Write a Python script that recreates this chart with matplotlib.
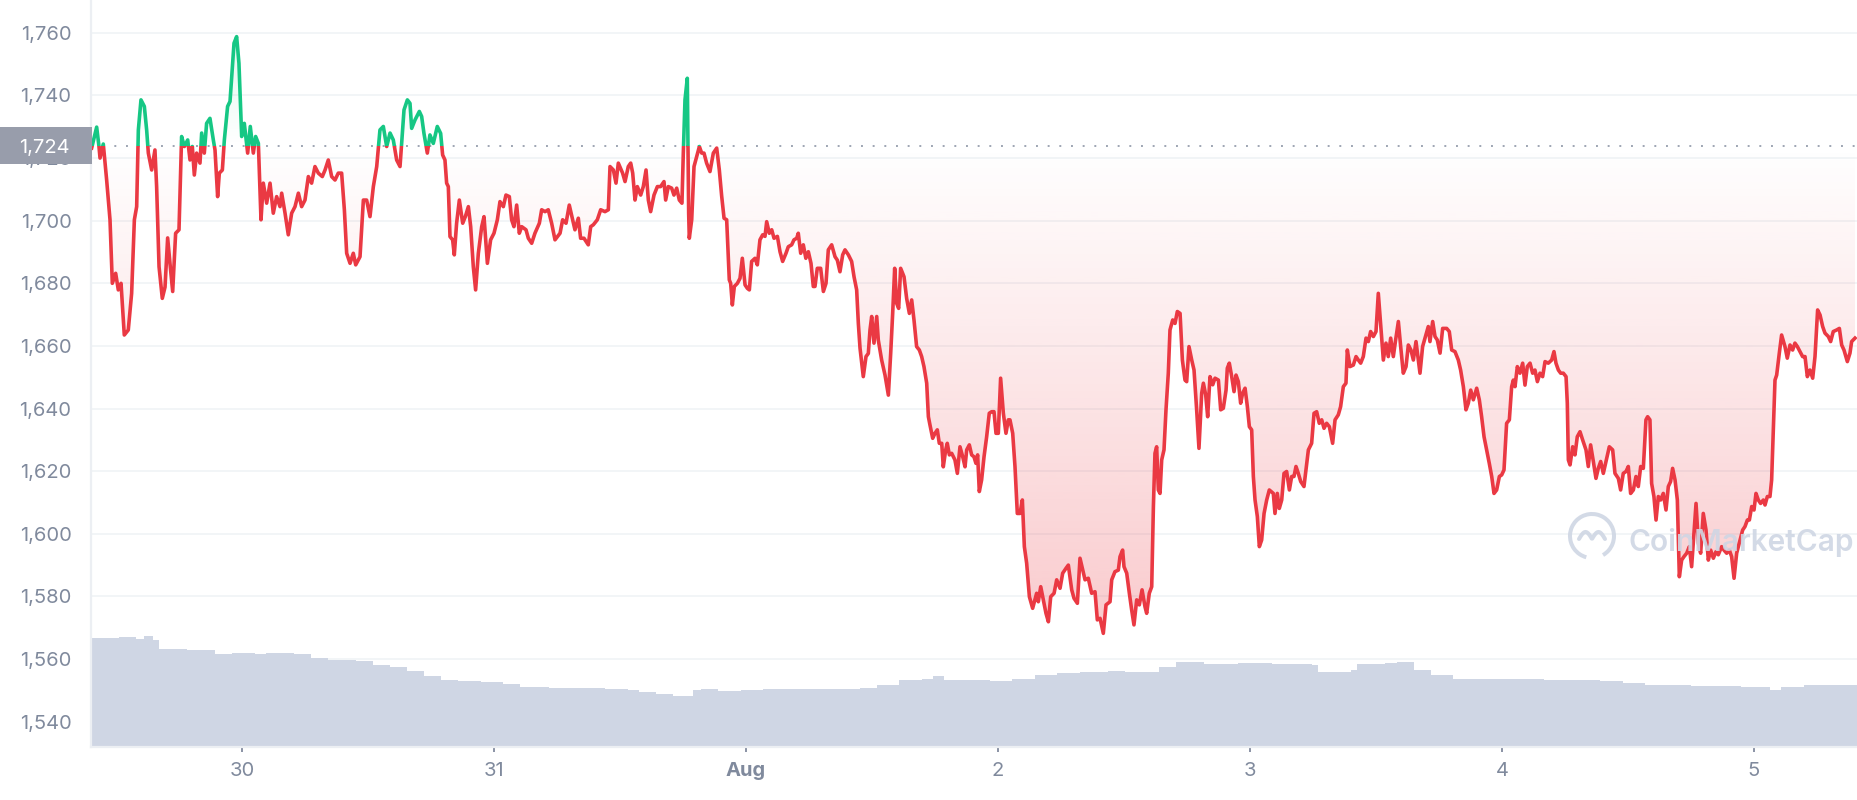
import numpy as np
import matplotlib
matplotlib.use('Agg')
import matplotlib.pyplot as plt
import matplotlib.transforms as mtransforms
from matplotlib.patches import Rectangle, Arc
from matplotlib.colors import to_rgb

plt.rcParams['font.family'] = ['Inter', 'DejaVu Sans']

# hours since Jul 30 00:00, ETH price (USD)
hours = [
    -14.32, -13.84, -13.62, -13.52, -13.21, -12.89, -12.57, -12.35, -12.03, -11.78, -11.52, -11.21,
    -10.83, -10.51, -10.25, -10.03, -9.87, -9.62, -9.30, -9.08, -8.92, -8.60, -8.29, -8.13, -7.90,
    -7.59, -7.33, -7.08, -6.83, -6.60, -6.32, -6.00, -5.75, -5.49, -5.17, -4.95, -4.73, -4.54, -4.32,
    -4.00, -3.84, -3.59, -3.37, -3.05, -2.73, -2.57, -2.32, -2.16, -1.87, -1.68, -1.37, -1.14, -0.76,
    -0.51, -0.29, -0.03, 0.22, 0.54, 0.79, 1.08, 1.30, 1.56, 1.81, 2.03, 2.35, 2.67, 2.98, 3.30, 3.62,
    3.78, 4.10, 4.41, 4.73, 5.05, 5.37, 5.68, 6.00, 6.32, 6.63, 6.95, 7.27, 7.65, 7.91, 8.22, 8.54,
    8.86, 9.17, 9.49, 9.75, 9.97, 10.29, 10.60, 10.83, 11.24, 11.56, 11.87, 12.19, 12.51, 12.83, 13.14,
    13.46, 13.78, 14.10, 14.41, 14.73, 15.05, 15.43, 15.75, 16.00, 16.16, 16.48, 16.89, 17.11, 17.33,
    17.65, 17.90, 18.22, 18.60, 18.92, 19.11, 19.33, 19.49, 19.65, 19.81, 20.06, 20.22, 20.44, 20.70,
    21.02, 21.27, 21.56, 21.78, 22.03, 22.25, 22.51, 22.83, 23.05, 23.37, 23.68, 24.00, 24.32, 24.57,
    24.89, 25.14, 25.46, 25.68, 25.90, 26.16, 26.41, 26.64, 27.05, 27.27, 27.59, 27.90, 28.32, 28.54,
    28.86, 29.17, 29.49, 29.81, 30.29, 30.54, 30.86, 31.17, 31.49, 31.71, 32.03, 32.25, 32.57, 32.98,
    33.21, 33.46, 33.84, 34.16, 34.57, 34.89, 35.05, 35.37, 35.62, 35.84, 36.25, 36.48, 36.79, 37.02,
    37.21, 37.43, 37.65, 37.97, 38.22, 38.48, 38.70, 38.92, 39.24, 39.56, 39.87, 40.19, 40.35, 40.60,
    40.92, 41.14, 41.40, 41.65, 41.90, 42.03, 42.19, 42.41, 42.54, 42.60, 42.83, 43.05, 43.30, 43.56,
    43.78, 44.00, 44.25, 44.57, 44.89, 45.21, 45.46, 45.68, 45.91, 46.16, 46.41, 46.54, 46.70, 46.89,
    47.18, 47.43, 47.65, 47.91, 48.13, 48.32, 48.54, 48.86, 49.08, 49.33, 49.59, 49.81, 49.97, 50.22,
    50.45, 50.67, 50.99, 51.24, 51.49, 51.81, 52.03, 52.35, 52.57, 52.83, 52.98, 53.21, 53.46, 53.70,
    53.94, 54.19, 54.41, 54.57, 54.79, 55.11, 55.37, 55.62, 55.84, 56.16, 56.48, 56.70, 56.95, 57.21,
    57.43, 57.75, 58.06, 58.29, 58.54, 58.70, 58.86, 59.17, 59.43, 59.65, 59.81, 59.97, 60.19, 60.45,
    60.60, 60.92, 61.24, 61.56, 61.78, 61.97, 62.16, 62.35, 62.54, 62.73, 63.05, 63.30, 63.56, 63.78,
    64.00, 64.25, 64.51, 64.73, 64.95, 65.21, 65.37, 65.52, 65.78, 66.00, 66.22, 66.41, 66.64, 66.79,
    67.02, 67.17, 67.37, 67.59, 67.90, 68.13, 68.38, 68.64, 68.86, 69.02, 69.27, 69.49, 69.71, 69.90,
    70.06, 70.22, 70.44, 70.67, 70.92, 71.17, 71.40, 71.62, 71.81, 72.03, 72.25, 72.51, 72.76, 72.98,
    73.14, 73.40, 73.62, 73.84, 74.10, 74.32, 74.51, 74.73, 74.99, 75.30, 75.68, 75.84, 76.07, 76.32,
    76.57, 76.80, 77.02, 77.34, 77.59, 77.91, 78.16, 78.48, 78.70, 79.02, 79.24, 79.56, 79.81, 80.07,
    80.29, 80.60, 80.92, 81.24, 81.46, 81.72, 82.03, 82.29, 82.67, 82.83, 83.14, 83.46, 83.62, 83.87,
    84.00, 84.26, 84.51, 84.73, 84.95, 85.21, 85.46, 85.72, 86.00, 86.16, 86.41, 86.64, 86.80, 86.95,
    87.11, 87.27, 87.43, 87.59, 87.81, 88.00, 88.22, 88.38, 88.64, 88.86, 89.08, 89.34, 89.56, 89.81,
    89.97, 90.19, 90.45, 90.67, 90.92, 91.14, 91.40, 91.56, 91.78, 91.97, 92.19, 92.45, 92.67, 92.99,
    93.21, 93.46, 93.72, 93.84, 94.03, 94.26, 94.48, 94.67, 94.89, 95.11, 95.30, 95.53, 95.75, 95.94,
    96.16, 96.32, 96.48, 96.70, 96.89, 97.11, 97.34, 97.59, 97.84, 98.22, 98.38, 98.60, 98.79, 99.02,
    99.24, 99.49, 99.75, 99.97, 100.19, 100.38, 100.60, 100.83, 101.14, 101.33, 101.56, 101.87, 102.10,
    102.35, 102.60, 102.83, 103.05, 103.30, 103.56, 103.87, 104.10, 104.41, 104.63, 104.89, 105.14,
    105.27, 105.52, 105.84, 106.10, 106.32, 106.54, 106.79, 107.05, 107.27, 107.49, 107.75, 108.00,
    108.22, 108.44, 108.70, 108.95, 109.17, 109.40, 109.65, 109.87, 110.13, 110.35, 110.60, 110.86,
    111.08, 111.33, 111.56, 111.81, 112.03, 112.19, 112.44, 112.67, 112.98, 113.14, 113.40, 113.62,
    113.84, 114.10, 114.35, 114.73, 114.98, 115.21, 115.52, 115.84, 116.06, 116.32, 116.57, 116.79,
    117.02, 117.27, 117.59, 117.84, 118.06, 118.29, 118.54, 118.79, 119.02, 119.24, 119.49, 119.75,
    119.97, 120.19, 120.44, 120.70, 120.92, 121.08, 121.24, 121.46, 121.71, 121.97, 122.19, 122.41,
    122.67, 122.92, 123.14, 123.37, 123.62, 123.87, 124.10, 124.41, 124.73, 124.95, 125.14, 125.37,
    125.59, 125.84, 126.10, 126.22, 126.32, 126.48, 126.73, 126.95, 127.17, 127.43, 127.68, 128.00,
    128.22, 128.44, 128.70, 128.95, 129.17, 129.40, 129.65, 129.90, 130.22, 130.54, 130.76, 131.08,
    131.30, 131.55, 131.81, 132.03, 132.25, 132.51, 132.76, 132.98, 133.21, 133.46, 133.71, 133.87,
    134.09, 134.25, 134.47, 134.67, 134.89, 135.11, 135.36, 135.62, 135.84, 136.06, 136.25, 136.48,
    136.70, 136.89, 137.11, 137.33, 137.59, 137.84, 138.06, 138.28, 138.48, 138.70, 138.92, 139.17,
    139.43, 139.65, 139.87, 140.13, 140.38, 140.60, 140.92, 141.14, 141.40, 141.65, 141.87, 142.10,
    142.35, 142.60, 142.92, 143.14, 143.37, 143.56, 143.78, 144.00, 144.19, 144.41, 144.63, 144.89,
    145.05, 145.27, 145.52, 145.68, 145.84, 146.00, 146.16, 146.41, 146.63, 146.95, 147.17, 147.43,
    147.68, 147.90, 148.13, 148.38, 148.63, 148.86, 149.08, 149.33, 149.59, 149.81, 149.97, 150.06,
    150.29, 150.54, 150.76, 151.08, 151.30, 151.55, 151.87, 152.13, 152.35, 152.57, 152.89, 153.14,
    153.30, 153.62,
]
price = [
    1723.2, 1729.9, 1723.7, 1720.0, 1724.5, 1713.0, 1700.3, 1680.0, 1683.2, 1677.9, 1680.0, 1663.5,
    1665.1, 1676.8, 1700.3, 1704.5, 1729.0, 1738.6, 1736.5, 1729.0, 1721.6, 1716.2, 1722.6, 1710.9, 1685.3,
    1675.2, 1678.8, 1694.5, 1685.3, 1677.4, 1696.0, 1697.1, 1726.9, 1723.7, 1725.8, 1719.4, 1723.7, 1714.6, 1721.6,
    1718.4, 1728.0, 1721.6, 1731.1, 1732.7, 1725.8, 1722.6, 1707.7, 1715.2, 1716.2, 1725.8, 1736.5, 1738.1, 1756.7,
    1758.8, 1750.3, 1726.9, 1731.1, 1721.6, 1730.1, 1721.6, 1726.9, 1724.7, 1700.3, 1712.0, 1705.6, 1712.0, 1702.4, 1707.7, 1704.5,
    1708.8, 1702.4, 1695.5, 1702.4, 1704.5, 1708.8, 1704.5, 1706.6, 1714.1, 1712.0, 1717.3, 1715.2, 1714.1, 1716.2, 1719.4, 1714.1,
    1713.0, 1715.2, 1715.2, 1703.5, 1689.6, 1686.4, 1689.6, 1685.9, 1688.5, 1706.6, 1706.6, 1701.3, 1710.9, 1717.3, 1729.0,
    1730.1, 1723.7, 1728.0, 1725.8, 1719.4, 1717.3, 1735.4, 1738.6, 1737.5, 1729.5, 1732.2, 1734.9, 1733.3, 1727.9,
    1721.6, 1727.4, 1724.7, 1730.1, 1727.9, 1721.0, 1719.4, 1712.0, 1710.9, 1694.9, 1693.9, 1689.1, 1699.2, 1706.6,
    1699.2, 1701.3, 1704.5, 1698.1, 1685.3, 1677.9, 1689.6, 1698.1, 1701.3, 1686.4, 1693.9, 1696.0, 1700.3, 1706.1,
    1704.5, 1708.2, 1707.7, 1700.3, 1698.1, 1705.0, 1696.0, 1698.1, 1697.1, 1694.4, 1692.8, 1696.0, 1699.2, 1703.5,
    1702.9, 1703.5, 1699.2, 1693.9, 1696.0, 1700.3, 1699.2, 1705.0, 1700.3, 1697.1, 1700.8, 1694.4, 1694.4, 1692.3,
    1698.1, 1698.7, 1700.3, 1703.5, 1702.9, 1703.5, 1717.3, 1716.2, 1712.0, 1718.4, 1715.2, 1712.5, 1717.3, 1718.4,
    1715.2, 1706.6, 1710.9, 1708.2, 1710.9, 1716.2, 1706.6, 1702.9, 1708.2, 1710.9, 1710.9, 1712.5, 1706.6, 1710.9,
    1710.4, 1708.2, 1710.4, 1706.6, 1705.6, 1721.6, 1738.6, 1745.5, 1702.4, 1694.4, 1700.3, 1717.3, 1720.5, 1723.7,
    1721.6, 1721.6, 1718.4, 1715.7, 1721.6, 1723.2, 1716.2, 1708.0, 1700.8, 1700.3, 1681.1, 1680.0, 1673.1, 1679.0,
    1680.0, 1681.6, 1688.0, 1679.5, 1678.4, 1677.9, 1687.0, 1688.0, 1685.9, 1693.9, 1695.5, 1695.0, 1699.7, 1696.0,
    1697.1, 1694.4, 1695.0, 1690.1, 1687.0, 1689.6, 1691.7, 1692.3, 1693.9, 1694.4, 1696.0, 1689.6, 1692.3, 1688.0,
    1690.1, 1686.4, 1679.0, 1679.0, 1684.8, 1684.8, 1677.4, 1680.0, 1690.7, 1692.3, 1688.5, 1687.4, 1683.7, 1689.1,
    1690.7, 1689.1, 1687.0, 1682.1, 1677.9, 1667.2, 1659.3, 1650.2, 1656.6, 1657.6, 1665.1, 1669.4, 1660.9, 1669.4,
    1661.9, 1655.5, 1650.7, 1644.3, 1657.6, 1670.4, 1684.8, 1673.6, 1672.0, 1684.8, 1682.1, 1675.2, 1670.4, 1674.7,
    1668.3, 1659.8, 1658.7, 1656.6, 1653.4, 1648.1, 1637.4, 1634.8, 1630.5, 1632.1, 1633.2, 1628.9, 1628.9, 1621.4,
    1626.8, 1628.9, 1625.2, 1625.7, 1623.6, 1619.3, 1627.8, 1624.6, 1621.4, 1626.8, 1628.4, 1625.2, 1624.6, 1622.5,
    1625.2, 1613.5, 1617.2, 1624.6, 1631.0, 1638.5, 1639.0, 1639.0, 1632.1, 1632.1, 1649.7, 1638.5, 1632.1, 1636.4,
    1636.4, 1632.1, 1621.4, 1606.5, 1606.5, 1610.8, 1595.9, 1590.6, 1579.9, 1576.2, 1581.0, 1578.3, 1583.1, 1578.9,
    1574.6, 1571.9, 1579.9, 1581.0, 1585.3, 1582.6, 1587.4, 1589.0, 1590.0, 1582.1, 1579.4, 1577.8, 1592.2, 1588.4,
    1585.3, 1585.8, 1581.0, 1581.5, 1572.5, 1573.0, 1568.2, 1577.3, 1578.3, 1585.3, 1587.9, 1588.4, 1592.7, 1594.8,
    1589.5, 1587.4, 1581.0, 1575.7, 1570.9, 1578.9, 1577.3, 1582.1, 1576.7, 1574.6, 1581.0, 1583.1, 1608.7, 1625.7,
    1627.8, 1614.0, 1612.9, 1623.6, 1626.8, 1639.6, 1651.3, 1665.1, 1668.3, 1667.2, 1671.0, 1670.4, 1655.5, 1649.1,
    1648.6, 1659.8, 1655.5, 1652.3, 1639.6, 1627.3, 1644.9, 1648.1, 1644.4, 1637.4, 1650.2, 1647.6, 1649.7, 1649.1,
    1639.6, 1640.1, 1645.9, 1652.9, 1654.5, 1650.2, 1645.4, 1650.7, 1648.6, 1641.7, 1644.9, 1646.5, 1640.6, 1634.2,
    1633.2, 1618.3, 1610.8, 1605.5, 1595.9, 1598.0, 1606.5, 1610.8, 1614.0, 1612.9, 1606.5, 1612.9, 1608.1, 1610.8,
    1619.3, 1619.9, 1614.0, 1618.3, 1618.3, 1621.5, 1619.3, 1616.7, 1615.1, 1620.4, 1626.8, 1628.9, 1638.5,
    1639.0, 1635.3, 1636.4, 1633.7, 1635.3, 1634.2, 1628.9, 1636.4, 1638.0, 1640.6, 1647.0, 1648.1,
    1658.7, 1653.4, 1653.9, 1656.6, 1655.5, 1654.5, 1656.6, 1662.5, 1661.4, 1664.6, 1663.0, 1664.6,
    1676.8, 1667.2, 1655.5, 1660.9, 1656.6, 1662.5, 1656.6, 1661.9, 1667.8, 1659.8, 1651.3, 1653.4,
    1660.3, 1658.7, 1655.5, 1661.4, 1655.5, 1651.3, 1659.8, 1662.5, 1666.2, 1661.4, 1667.8, 1663.0,
    1661.9, 1657.7, 1665.6, 1665.6, 1664.6, 1658.7, 1658.2, 1655.5, 1652.3, 1647.0, 1639.6, 1641.7,
    1645.9, 1642.8, 1646.5, 1642.8, 1637.4, 1631.0, 1626.8, 1622.5, 1618.3, 1612.9, 1614.0, 1618.3,
    1618.8, 1620.4, 1635.3, 1636.4, 1647.0, 1649.1, 1647.0, 1653.4, 1651.3, 1654.5, 1647.5, 1653.4,
    1654.5, 1651.3, 1652.3, 1648.6, 1651.3, 1650.2, 1655.0, 1654.5, 1655.5, 1658.2, 1654.5, 1652.3,
    1651.3, 1651.3, 1650.2, 1641.7, 1623.6, 1622.0, 1627.8, 1625.2, 1631.0, 1632.6, 1630.0, 1626.8,
    1621.5, 1628.4, 1623.1, 1617.7, 1620.9, 1623.1, 1619.3, 1623.1, 1627.8, 1626.8, 1619.3, 1617.7,
    1614.0, 1619.3, 1619.9, 1621.5, 1612.9, 1614.0, 1618.3, 1615.1, 1621.5, 1620.9, 1636.4, 1637.4,
    1636.4, 1616.1, 1611.9, 1604.4, 1611.9, 1610.8, 1612.9, 1607.6, 1615.1, 1616.7, 1620.9, 1617.2,
    1610.8, 1586.3, 1591.6, 1592.7, 1593.8, 1595.9, 1589.5, 1600.2, 1609.7, 1597.0, 1593.8, 1606.5,
    1601.2, 1591.6, 1594.8, 1592.2, 1594.3, 1593.3, 1595.9, 1594.8, 1593.8, 1594.8, 1592.7, 1585.8,
    1593.8, 1597.0, 1601.2, 1602.3, 1604.4, 1604.4, 1608.7, 1607.6, 1612.9, 1610.8, 1609.7, 1610.8,
    1609.2, 1611.9, 1611.9, 1617.2, 1633.2, 1649.1, 1650.7, 1657.7, 1663.5, 1659.8, 1656.1, 1660.3,
    1658.7, 1660.9, 1659.8, 1658.2, 1656.6, 1656.6, 1650.2, 1652.3, 1649.7, 1656.6, 1666.2, 1671.5,
    1669.9, 1666.2, 1664.1, 1663.0, 1661.4, 1664.6, 1665.1, 1665.6, 1660.3, 1658.7, 1655.0, 1657.7,
    1661.4, 1662.5,
]

# volume (billion USD), hours since Jul 30 00:00
vol_hours = [
    -14.41, -11.72, -10.11, -9.35, -8.49, -7.95, -5.26, -3.66, -2.57, -0.95, 1.20, 2.28, 4.97, 6.59,
    8.20, 10.89, 12.51, 14.12, 15.74, 17.36, 18.97, 20.59, 22.74, 24.89, 26.51, 29.20, 32.43, 34.59,
    36.74, 37.82, 39.43, 41.05, 42.12, 42.99, 43.74, 45.35, 47.51, 49.66, 55.05, 58.82, 60.43, 62.59,
    64.74, 65.81, 66.89, 69.05, 71.20, 73.35, 75.51, 77.66, 79.82, 82.51, 84.12, 86.28, 87.35, 88.97,
    91.66, 94.89, 98.12, 101.89, 102.43, 104.58, 105.66, 106.20, 108.89, 109.97, 111.58, 113.20,
    115.35, 118.58, 120.74, 123.97, 127.20, 129.35, 131.51, 133.66, 135.81, 137.97, 140.12, 142.81,
    145.50, 146.58, 148.74, 150.89, 153.80,
]
volume = [
    16.35, 16.5, 16.15, 16.6, 16.1, 14.75, 14.6, 14.5, 14.0, 14.15, 13.9, 14.1, 14.0, 13.4,
    13.0, 12.9, 12.25, 12.0, 11.35, 10.6, 10.0, 9.85, 9.75, 9.4, 9.0, 8.9, 8.9, 8.75,
    8.6, 8.25, 8.0, 7.65, 7.65, 8.6, 8.75, 8.4, 8.6, 8.75, 8.75, 8.85, 9.25, 10.0,
    10.25, 10.6, 10.0, 10.1, 9.9, 10.15, 10.75, 11.1, 11.2, 11.4, 11.25, 11.3, 12.0, 12.75,
    12.5, 12.65, 12.5, 12.25, 11.25, 11.25, 11.6, 12.5, 12.6, 12.7, 11.5, 10.75,
    10.25, 10.15, 10.25, 10.0, 10.0, 9.85, 9.6, 9.35, 9.35, 9.15, 9.15, 9.0,
    8.6, 9.0, 9.25, 9.35, 9.15,
]

day_ticks = [0, 24, 48, 72, 96, 120, 144]
day_labels = ['30', '31', 'Aug', '2', '3', '4', '5']
price_ticks = [1540, 1560, 1580, 1600, 1620, 1640, 1660, 1680, 1700, 1720, 1740, 1760]
ref_price = 1724

RED = '#ea3943'
GREEN = '#16c784'
GRID = '#eff2f5'
TXT = '#808a9d'
VOLC = '#cfd6e4'

W, H = 1858, 800
fig = plt.figure(figsize=(W / 100, H / 100), dpi=100)
ax = fig.add_axes([91 / W, 53 / H, 1766 / W, 747 / H])
ax.patch.set_alpha(0)
x0, x1 = -14.38, 153.81
y0, y1 = 1531.9, 1770.5

# volume drawn in axes-fraction units so it sits at the bottom
vmax = 112.0
vol_tr = mtransforms.blended_transform_factory(
    ax.transData, mtransforms.Affine2D().scale(1, 1 / vmax) + ax.transAxes)
ax.fill_between(vol_hours, volume, 0, step='post', transform=vol_tr,
                color=VOLC, lw=0, zorder=1)

# gradient area between price and reference line
area = ax.fill_between(hours, price, ref_price, color='none', lw=0)
clip = area.get_paths()[0]

red_grad = np.zeros((256, 1, 4))
red_grad[:, 0, :3] = to_rgb(RED)
red_grad[:, 0, 3] = np.linspace(0.27, 0.0, 256)
im = ax.imshow(red_grad, extent=[x0, x1, 1565, ref_price], origin='lower',
               aspect='auto', interpolation='bilinear', zorder=1.5)
im.set_clip_path(clip, transform=ax.transData)

green_grad = np.zeros((256, 1, 4))
green_grad[:, 0, :3] = to_rgb(GREEN)
green_grad[:, 0, 3] = np.linspace(0.0, 0.14, 256)
im2 = ax.imshow(green_grad, extent=[x0, x1, ref_price, 1762], origin='lower',
                aspect='auto', interpolation='bilinear', zorder=1.5)
im2.set_clip_path(clip, transform=ax.transData)

ax.axhline(ref_price, color='#9ea5b3', lw=1.4, ls=(0, (1, 5)), zorder=2.5)

# price line, red below the reference and green above
lr, = ax.plot(hours, price, color=RED, lw=2.6, zorder=3, solid_joinstyle='round')
lr.set_clip_path(Rectangle((x0, y0), x1 - x0, ref_price - y0, transform=ax.transData))
lg, = ax.plot(hours, price, color=GREEN, lw=2.6, zorder=3, solid_joinstyle='round')
lg.set_clip_path(Rectangle((x0, ref_price), x1 - x0, y1 - ref_price, transform=ax.transData))

ax.set_xlim(x0, x1)
ax.set_ylim(y0, y1)

ax.set_axisbelow(True)
ax.set_yticks(price_ticks)
ax.set_yticklabels([f'{v:,}' for v in price_ticks])
ax.grid(axis='y', color=GRID, lw=1.1)
ax.set_xticks(day_ticks)
ax.set_xticklabels(day_labels)
ax.get_xticklabels()[2].set_fontweight('bold')
ax.tick_params(axis='y', length=0, pad=14, labelsize=14.5, labelcolor=TXT)
ax.tick_params(axis='x', length=3.6, width=1.4, color='#8a93a5', pad=7,
               labelsize=14.5, labelcolor=TXT)
for s in ['top', 'right']:
    ax.spines[s].set_visible(False)
for s in ['left', 'bottom']:
    ax.spines[s].set_color('#eceff3')
    ax.spines[s].set_linewidth(1.6)

# current price tag on the y axis
blend = mtransforms.blended_transform_factory(fig.transFigure, ax.transData)
ax.add_patch(Rectangle((0, ref_price - 18.5 / 3.13), 92 / W, 37 / 3.13, transform=blend,
                       facecolor='#989dab', edgecolor='none', clip_on=False, zorder=10))
ax.text(70 / W, ref_price, '1,724', transform=blend, ha='right', va='center_baseline',
        color='white', fontsize=14.5, zorder=11, clip_on=False)
ax.set_xlim(x0, x1)
ax.set_ylim(y0, y1)

# watermark
fig.text(1629 / W, 1 - 551 / H, 'CoinMarketCap', fontsize=21.5, fontweight='semibold',
         color=VOLC, alpha=0.9, ha='left', va='baseline')
logo = fig.dpi_scale_trans
fig.patches.append(Arc((15.92, 2.64), 0.44, 0.44, theta1=300, theta2=255,
                       transform=logo, color=VOLC, lw=2.9, alpha=0.9))
wx = np.linspace(-0.13, 0.13, 60)
wy = -0.03 + 0.07 * np.abs(np.sin((wx + 0.13) / 0.26 * 2 * np.pi))
fig.lines.append(plt.Line2D(15.92 + wx, 2.64 + wy, transform=logo, color=VOLC,
                            lw=2.9, alpha=0.9, solid_capstyle='round'))

fig.savefig('out.png', dpi=100)
